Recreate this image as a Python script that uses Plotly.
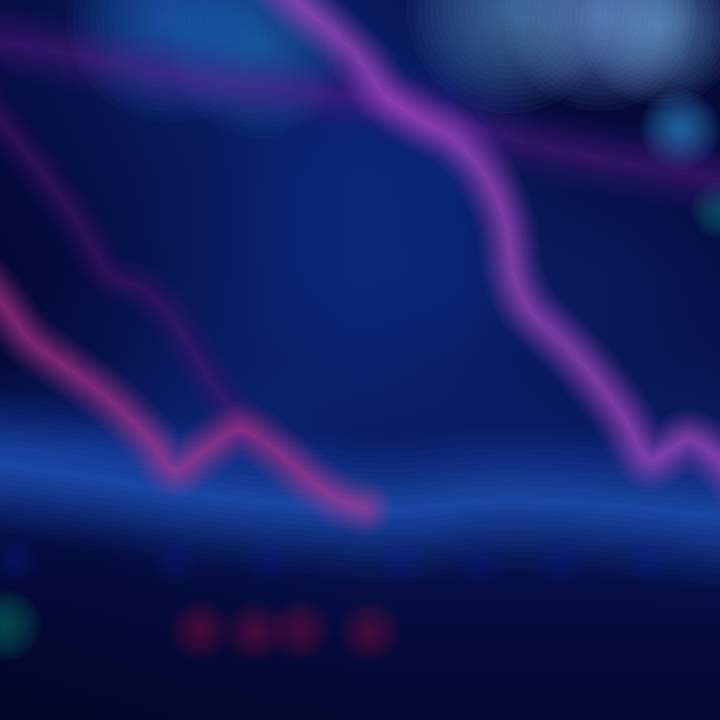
import plotly.graph_objects as go

# ---------------- data (pixel-like units) ----------------
H = 720
grid_x = [0, 90, 180, 270, 360, 450, 540, 630, 720]
grid_py = [0, 90, 180, 270, 360, 450, 540, 630, 720]
glow_z = [
    [0.35, 0.45, 0.55, 0.60, 0.55, 0.45, 0.30, 0.35, 0.30],
    [0.35, 0.45, 0.55, 0.60, 0.62, 0.58, 0.28, 0.25, 0.30],
    [0.30, 0.40, 0.50, 0.62, 0.68, 0.65, 0.45, 0.40, 0.35],
    [0.25, 0.35, 0.50, 0.62, 0.68, 0.66, 0.55, 0.50, 0.40],
    [0.30, 0.40, 0.55, 0.60, 0.62, 0.60, 0.55, 0.50, 0.45],
    [0.58, 0.62, 0.64, 0.62, 0.58, 0.58, 0.58, 0.58, 0.60],
    [0.35, 0.35, 0.38, 0.40, 0.42, 0.42, 0.42, 0.42, 0.45],
    [0.22, 0.25, 0.28, 0.30, 0.32, 0.32, 0.32, 0.32, 0.32],
    [0.12, 0.15, 0.18, 0.20, 0.22, 0.22, 0.22, 0.22, 0.22],
]

main_x = [270, 300, 330, 360, 385, 420, 455, 485, 505, 515, 530, 550, 575, 600, 625, 650, 670, 690, 740]
main_py = [-25, 5, 30, 60, 95, 120, 140, 175, 220, 280, 310, 330, 355, 385, 420, 460, 450, 440, 480]

band_x = [-30, 100, 200, 300, 380, 480, 560, 640, 750]
band_py = [35, 60, 80, 92, 100, 130, 150, 165, 185]

left_x = [-20, 0, 30, 70, 110, 150, 175, 205, 240, 275, 310, 340, 365]
left_py = [275, 300, 340, 370, 400, 440, 470, 450, 430, 450, 480, 500, 508]

dim_x = [-25, 0, 40, 80, 110, 145, 180, 210, 240]
dim_py = [85, 120, 170, 225, 275, 290, 330, 380, 420]

area_x = [-30, 100, 200, 300, 400, 500, 600, 750]
area_mid_py = [460, 478, 495, 505, 510, 500, 505, 520]

blob_x = [170, 260, 510, 600, 660, 680, 720, 5]
blob_py = [20, 50, 10, 15, 25, 130, 210, 625]
blob_size = [140, 120, 140, 130, 110, 55, 40, 50]
blob_color = ["#2f8ad0", "#2a80c8", "#6fa6d8", "#7ab4e2", "#80b8e4", "#4aa0e0", "#1a8a8a", "#17806f"]

red_x = [200, 255, 300, 370]
red_py = [630, 632, 630, 632]

tick_x = [15, 175, 270, 400, 480, 560, 650]
tick_py = [560, 560, 560, 560, 560, 560, 560]


def inv(v):
    return [H - p for p in v]


def rgba(hexc, a):
    h = hexc.lstrip("#")
    r, g, b = int(h[0:2], 16), int(h[2:4], 16), int(h[4:6], 16)
    return f"rgba({r},{g},{b},{a})"


fig = go.Figure()

# background glow
fig.add_trace(go.Heatmap(
    x=grid_x, y=inv(grid_py), z=glow_z, zsmooth="best", showscale=False,
    zmin=0, zmax=1, hoverinfo="skip",
    colorscale=[[0, "#02031a"], [0.3, "#050a3a"], [0.55, "#081a5e"],
                [0.7, "#0b2a7e"], [1, "#1a50b0"]],
))


def glow_line(xs, pys, color, wmax, n, amax):
    for i in range(n):
        f = (i + 1) / n
        w = wmax * (1.05 - f)
        a = round(min(amax * (0.25 + 0.75 * f) / n * 2.2, 1), 3)
        fig.add_trace(go.Scatter(x=xs, y=inv(pys), mode="lines",
                                 line=dict(color=rgba(color, a), width=w,
                                           shape="spline", smoothing=1.0),
                                 hoverinfo="skip", showlegend=False))


def glow_pts(xs, pys, colors, sizes, n, amax):
    for i in range(n):
        f = (i + 1) / n
        s = 1.5 * (1.04 - f)
        a = round(amax / n * 1.8, 4)
        fig.add_trace(go.Scatter(x=xs, y=inv(pys), mode="markers",
                                 marker=dict(size=[z * s for z in sizes],
                                             color=[rgba(c, a) for c in colors],
                                             line=dict(width=0)),
                                 hoverinfo="skip", showlegend=False))


# blurred blue area band
glow_line(area_x, area_mid_py, "#2a66d4", 150, 14, 0.7)

# cyan blobs
glow_pts(blob_x, blob_py, blob_color, blob_size, 18, 0.7)

# dim column ticks and red blobs near the bottom
glow_pts(tick_x, tick_py, ["#1a2a8a"] * len(tick_x), [36] * len(tick_x), 8, 0.35)
glow_pts(red_x, red_py, ["#a01050"] * len(red_x), [44] * len(red_x), 10, 0.45)

# lines
glow_line(band_x, band_py, "#6a2090", 80, 12, 0.45)
glow_line(dim_x, dim_py, "#6a1a78", 55, 12, 0.4)
glow_line(left_x, left_py, "#cc3c98", 60, 14, 0.65)
glow_line(main_x, main_py, "#b850c8", 65, 14, 0.75)

fig.update_layout(
    width=720, height=720, margin=dict(l=0, r=0, t=0, b=0),
    paper_bgcolor="#05082a", plot_bgcolor="#05082a", showlegend=False,
    xaxis=dict(range=[0, 720], visible=False, fixedrange=True),
    yaxis=dict(range=[0, 720], visible=False, fixedrange=True),
)

post = (
    "document.body.style.margin='0';"
    "document.body.style.background='#05082a';"
    "document.querySelectorAll('path.js-line').forEach(function(p){"
    "p.style.strokeLinecap='round';p.style.strokeLinejoin='round';});"
)
fig.write_html("out.html", config={"displayModeBar": False}, post_script=post)
